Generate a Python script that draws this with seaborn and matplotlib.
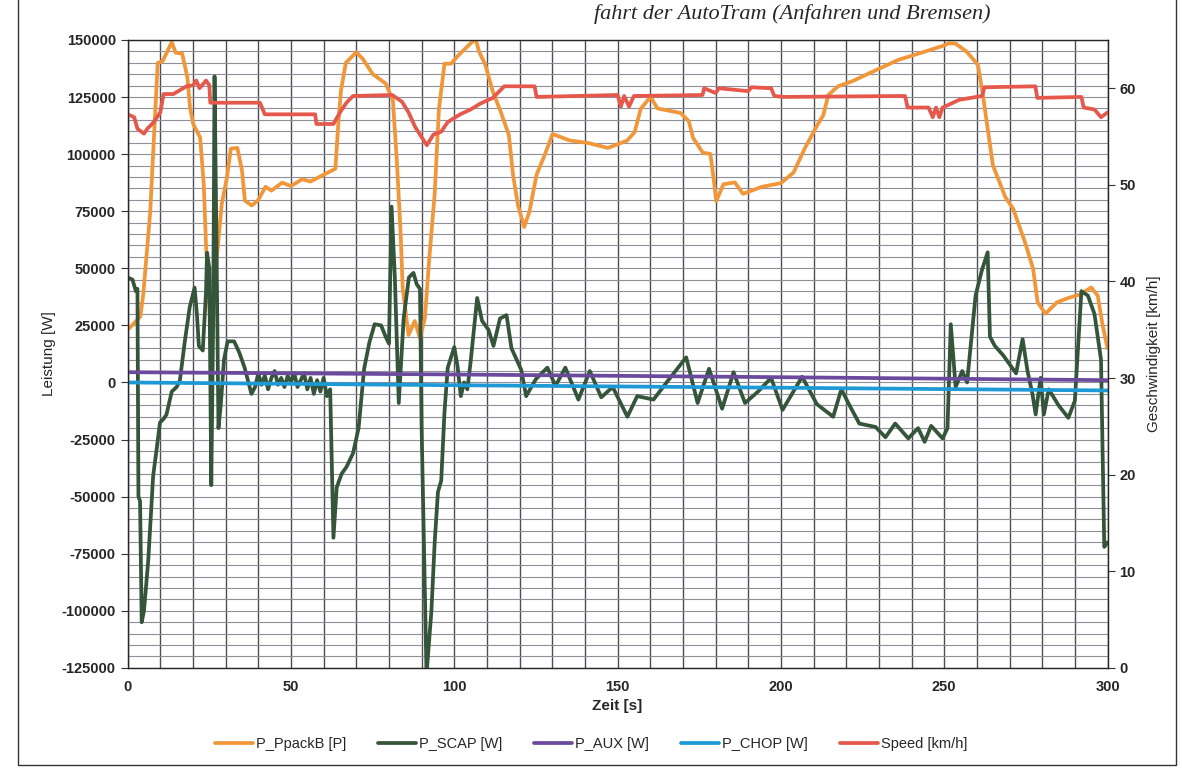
import numpy as np
import pandas as pd
import matplotlib
matplotlib.use("Agg")
import matplotlib.pyplot as plt
from matplotlib.ticker import MultipleLocator
from matplotlib.patches import Rectangle
import seaborn as sns

# ------------------------------------------------------------
# Daten
# ------------------------------------------------------------

t_ppack = [0, 2, 3.9, 4.8, 6.9, 9.2, 10.7, 12.7, 13.5, 14.7, 16.7, 18.3, 19.1, 20.1,
           22.2, 23.3, 24.0, 25.2, 26.2, 27.1, 28.8, 30.4, 31.6, 33.6, 35.0, 35.9,
           38.0, 40.0, 42.2, 44, 47.3, 50, 53.4, 56, 59.5, 63.6, 64.4, 65.3, 66.8,
           70.0, 72.0, 75.0, 79.0, 81.2, 82.4, 83.5, 84.2, 86.0, 87.9, 89.5, 91.0,
           92.3, 94.0, 95.3, 97.0, 99.0, 101.3, 104.5, 106.5, 107.6, 109.5, 111.8,
           114.2, 116.7, 118.0, 119.5, 121.4, 123.0, 125.2, 127.4, 130.1, 135.3,
           141.2, 147.0, 152.9, 155.2, 157.1, 160.1, 162.2, 169.3, 171.8, 173.1,
           176.1, 178.4, 179.5, 180.2, 182.4, 185.9, 188.4, 194.2, 200.0, 203.9,
           207.2, 211.1, 213.0, 214.5, 217.5, 222.0, 229.0, 236.0, 243.0, 250.0,
           251.2, 253.5, 256.9, 260.3, 261.7, 264.9, 268.7, 271.1, 274.7, 277.2,
           278.6, 281.0, 284.5, 288, 291.5, 295.0, 297, 298.5, 300]
p_ppack = [23000, 26000, 28900, 39000, 74400, 139900, 140700, 146600, 149000, 144400,
           144000, 133500, 120300, 113100, 107200, 86800, 60000, 27900, 35000, 51600,
           78100, 89800, 102400, 102700, 92800, 79600, 77500, 79900, 85700, 84000,
           87500, 86000, 89000, 88000, 90600, 93600, 111300, 127700, 140000, 144600,
           141700, 135100, 130900, 123600, 97300, 67700, 41300, 20800, 26900, 19400,
           28200, 53500, 82600, 119700, 139600, 139600, 143300, 147800, 150500, 144900,
           139100, 127400, 118600, 108400, 90800, 77600, 68100, 74800, 91000, 98600,
           108800, 106000, 104800, 102700, 105900, 109600, 119900, 125100, 120000,
           118000, 114400, 107100, 100600, 100100, 88200, 79400, 86800, 87600, 82600,
           85700, 87300, 92000, 102200, 112600, 117100, 125900, 129700, 132000, 136700,
           141300, 144400, 147600, 148500, 148400, 144800, 139100, 127300, 95100, 81200,
           76100, 61500, 49900, 35100, 30100, 35100, 37000, 38500, 41600, 38000, 25000,
           15000]

t_scap = [0, 1.5, 2.5, 3.0, 3.3, 3.8, 4.3, 5.0, 6.3, 7.8, 8.8, 9.9, 11.0, 11.9, 13.5,
          15.0, 16.0, 17.5, 19.0, 20.5, 21.2, 21.8, 23.0, 24.0, 24.3, 25.0, 25.6, 26.2,
          26.6, 27.2, 27.8, 28.5, 29.5, 30.6, 32.6, 34.2, 35.8, 37.0, 37.9,
          39, 40, 41, 42, 43, 44, 45, 46, 47, 48, 49, 50, 51, 52, 53, 54, 55, 56, 57,
          58, 59, 60, 61, 62, 63.0, 64.0, 65.5, 67.0, 69.0, 70.7, 72.4, 74.0, 75.6,
          77.6, 79.0, 80.0, 80.8, 81.8, 83.0, 84.5, 86.1, 87.5, 88.5, 89.5, 90.0, 91.5,
          93.0, 94.0, 95.0, 96.0, 97.0, 98.0, 100.0, 101.0, 102.0, 103.0, 104.0, 105.0,
          107.0, 108.5, 110.5, 112.0, 114.0, 116.0, 117.5, 120.5, 122, 125, 128.5,
          131, 134, 138, 141.5, 145, 148.5, 153, 156, 161, 165, 171, 174.5, 178, 182,
          185.5, 189, 193, 197, 200.5, 206.5, 211, 216, 218.5, 221, 224, 229, 232, 235,
          239, 242, 244, 246, 249.5, 251, 252, 253.5, 255.5, 257, 259.6, 261.5, 263.3,
          264, 265.5, 268, 270, 272, 274, 275.5, 277, 278, 279.5, 280.5, 282, 285, 288,
          290, 292, 294, 296, 298, 299, 300]
p_scap = [46000, 45000, 40000, 41000, -50000, -52000, -105000, -100000, -78000, -41000,
          -30000, -17500, -16000, -14000, -4000, -2000, 1000, 18000, 33000, 41500, 30000,
          16000, 14000, 40000, 56800, 50000, -45000, 30000, 134000, 60000, -20000, -10000,
          10000, 18000, 18000, 13000, 6500, 0, -5000,
          -2000, 4000, -1000, 3000, -3000, 2000, 5000, -1000, 2000, -2000, 3000, 0, 4000,
          -2000, 1000, 4000, -3000, 2000, -5000, 1000, -4000, 2000, -6000, -3000,
          -68000, -46000, -40000, -37000, -31000, -20000, 6000, 17500, 25500, 25000,
          20000, 17000, 77000, 46000, -9000, 28000, 46000, 48000, 43000, 41000, -20000,
          -128000, -100000, -70000, -48000, -43000, -13000, 6500, 15500, 7000, -6000, 0,
          -3000, 9000, 37000, 27000, 23000, 16000, 28000, 29500, 15000, 5500, -6000,
          1500, 6500, -1500, 6500, -7500, 5000, -6500, -2000, -15000, -6000, -7500, 0,
          11000, -9000, 6000, -11500, 4500, -9000, -4000, 2000, -12000, 2500, -9500,
          -15000, -3000, -10000, -18000, -19500, -24000, -18000, -24500, -20000, -26000,
          -19000, -24500, -20000, 25500, -2000, 5000, 0, 38000, 49000, 57000, 20000,
          16000, 12000, 8000, 4000, 19000, 5000, -5000, -14000, 2000, -14000, -3000,
          -10000, -15500, -8000, 40000, 38000, 30000, 10000, -72000, -70000]

t_aux = [0, 100, 200, 300]
p_aux = [4500, 3500, 2300, 1000]

t_chop = [0, 100, 200, 300]
p_chop = [0, -1200, -2300, -3500]

t_speed = [0, 2, 3, 5, 6, 8, 10, 11, 14, 16, 18, 20, 21, 22, 24, 25, 25.3, 40.5, 42,
           57.4, 57.8, 63, 65, 67, 69, 81, 84, 86, 88, 91.6, 93.6, 96, 98, 101.8, 105,
           107.9, 111.8, 115.3, 124.6, 125.2, 150, 151, 152, 153.5, 155, 176, 176.5, 180,
           181, 190, 191, 197, 198, 200.8, 238, 238.8, 245.2, 246.5, 247.5, 248.5, 249.5,
           254.6, 261.6, 262.3, 277.9, 278.5, 292, 292.7, 296, 298, 300]
speed = [57.3, 57.0, 55.8, 55.3, 55.8, 56.5, 57.5, 59.4, 59.4, 59.8, 60.2, 60.3, 60.8,
         60.0, 60.8, 60.3, 58.5, 58.5, 57.3, 57.3, 56.3, 56.3, 57.5, 58.5, 59.2, 59.3,
         58.6, 57.5, 56.0, 54.1, 55.2, 55.5, 56.5, 57.3, 57.8, 58.4, 59.0, 60.2, 60.2,
         59.1, 59.3, 58.1, 59.2, 58.1, 59.2, 59.3, 60.0, 59.5, 60.0, 59.7, 60.1, 60.0,
         59.2, 59.1, 59.2, 58.0, 58.0, 57.0, 58.0, 57.0, 58.0, 58.8, 59.2, 60.1, 60.2,
         59.0, 59.1, 58.0, 57.8, 57.0, 57.5]

farben = {
    "P_PpackB [P]": "#F2963A",
    "P_SCAP [W]": "#35553A",
    "P_AUX [W]": "#6B4A9E",
    "P_CHOP [W]": "#1D9AD6",
    "Speed [km/h]": "#E5584B",
}

# ------------------------------------------------------------
# Diagramm
# ------------------------------------------------------------

sns.set_style("white")
plt.rcParams["font.family"] = ["Liberation Sans", "DejaVu Sans"]

fig = plt.figure(figsize=(11.82, 7.83), dpi=100)
ax = fig.add_axes([0.108, 0.147, 0.829, 0.802])

serien = [
    ("P_PpackB [P]", t_ppack, p_ppack),
    ("P_SCAP [W]", t_scap, p_scap),
    ("P_AUX [W]", t_aux, p_aux),
    ("P_CHOP [W]", t_chop, p_chop),
]
for name, t, p in serien:
    df = pd.DataFrame({"Zeit": t, "Leistung": p})
    sns.lineplot(data=df, x="Zeit", y="Leistung", ax=ax, color=farben[name],
                 linewidth=2.7, estimator=None, sort=False, label=name, legend=False)

ax.set_xlim(0, 300)
ax.set_ylim(-125000, 150000)
ax.set_yticks(np.arange(-125000, 150001, 25000))
ax.set_yticklabels([str(v) for v in np.arange(-125000, 150001, 25000)])
ax.set_xticks(np.arange(0, 301, 50))
ax.xaxis.set_minor_locator(MultipleLocator(10))
ax.yaxis.set_minor_locator(MultipleLocator(5000))
ax.grid(axis="y", which="both", color="#8f8f9a", linewidth=0.8)
ax.grid(axis="x", which="both", color="#4d4d55", linewidth=1.0)
ax.set_axisbelow(True)
ax.tick_params(axis="both", which="minor", length=0)
ax.tick_params(axis="both", which="major", length=5, direction="out",
               labelsize=10.5, color="#333333")
for lab in ax.get_xticklabels() + ax.get_yticklabels():
    lab.set_fontweight("bold")
ax.set_xlabel("Zeit [s]", fontsize=11, fontweight="bold")
ax.set_ylabel("Leistung [W]", fontsize=11)
for s in ax.spines.values():
    s.set_color("#444444")
    s.set_linewidth(1.0)

# Zweite Achse fuer die Geschwindigkeit
ax2 = ax.twinx()
df_speed = pd.DataFrame({"Zeit": t_speed, "Speed": speed})
sns.lineplot(data=df_speed, x="Zeit", y="Speed", ax=ax2, color=farben["Speed [km/h]"],
             linewidth=2.7, estimator=None, sort=False, legend=False)
ax2.set_ylim(0, 65)
ax2.set_yticks(np.arange(0, 61, 10))
ax2.tick_params(axis="y", length=5, direction="out", labelsize=10.5, color="#333333")
for lab in ax2.get_yticklabels():
    lab.set_fontweight("bold")
ax2.set_ylabel("Geschwindigkeit [km/h]", fontsize=11, labelpad=8)
ax2.grid(False)
ax2.set_xlim(0, 300)

# Legende unten
handles = [plt.Line2D([], [], color=c, linewidth=2.7) for c in farben.values()]
fig.legend(handles, list(farben.keys()), loc="center", bbox_to_anchor=(0.5, 0.05),
           ncol=5, frameon=False, fontsize=10.5, handlelength=2.6, columnspacing=2.2,
           handletextpad=0.2)

# Titel oben (im Original angeschnitten)
fig.text(0.838, 0.976, "fahrt der AutoTram (Anfahren und Bremsen)", ha="right",
         va="baseline", fontsize=16, style="italic",
         family=["Liberation Serif", "DejaVu Serif"])

# Rahmen des Diagrammbereichs
fig.patches.append(Rectangle((0.015, 0.023), 0.98, 1.2, transform=fig.transFigure,
                             fill=False, edgecolor="#333333", linewidth=1.0))

fig.savefig("out.png", dpi=100)
plt.close(fig)
